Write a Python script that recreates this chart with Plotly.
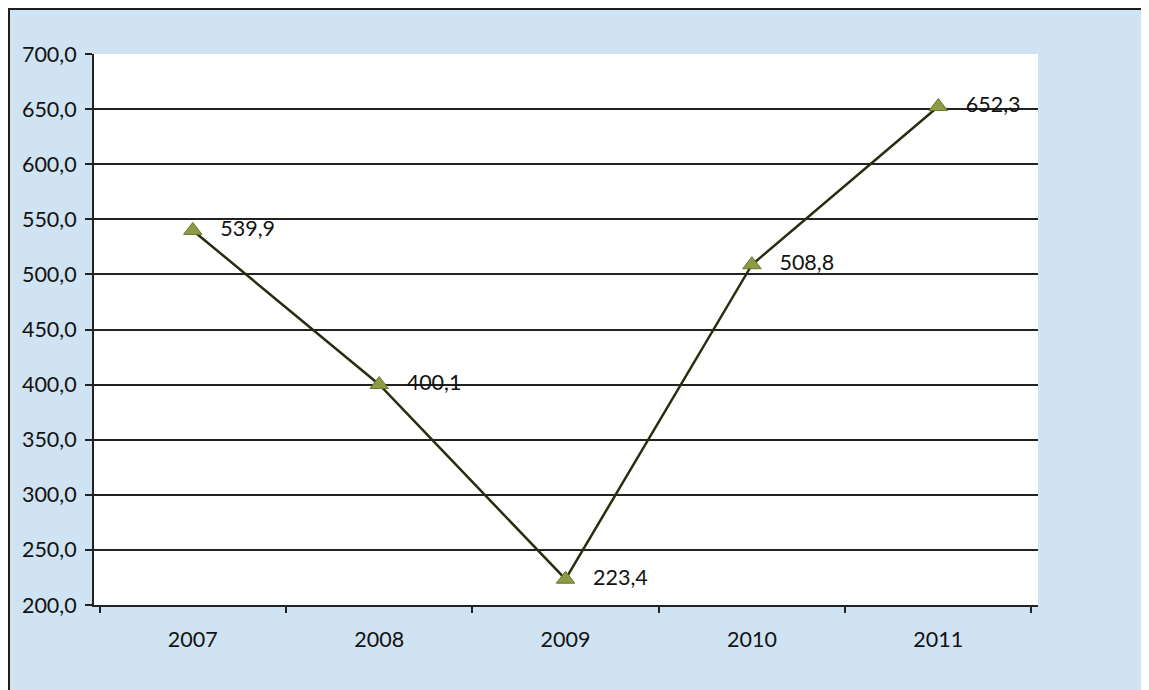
import plotly.graph_objects as go

years = ["2007", "2008", "2009", "2010", "2011"]
values = [539.9, 400.1, 223.4, 508.8, 652.3]
labels = ["539,9", "400,1", "223,4", "508,8", "652,3"]
y_ticks = [200, 250, 300, 350, 400, 450, 500, 550, 600, 650, 700]
y_tick_text = ["200,0", "250,0", "300,0", "350,0", "400,0", "450,0", "500,0", "550,0", "600,0", "650,0", "700,0"]

FONT = "Lato, Open Sans, sans-serif"
FS = 21.5

fig = go.Figure()
fig.add_trace(go.Scatter(
    x=years, y=values, mode="lines+markers+text",
    text=["   " + t for t in labels], textposition="middle right",
    textfont=dict(family=FONT, size=FS, color="#121212"),
    line=dict(color="#2b2b0e", width=2.5),
    marker=dict(symbol="triangle-up", size=16, color="#8e9b43", line=dict(color="#6a7530", width=1)),
    cliponaxis=False, showlegend=False,
))

W, H = 1141, 682
L, T, R, B = 86, 46, 111, 85
pw, ph = W - L - R, H - T - B

fig.update_layout(
    width=W, height=H,
    margin=dict(l=L, r=R, t=T, b=B),
    paper_bgcolor="#d0e3f2", plot_bgcolor="#ffffff",
    font=dict(family=FONT, size=FS, color="#121212"),
    shapes=[dict(type="rect", xref="paper", yref="paper",
                 x0=(1 - L) / pw, x1=(1138 - L) / pw,
                 y0=-0.3, y1=1 + (T - 1) / ph,
                 line=dict(color="#1e1e1e", width=2), fillcolor="rgba(0,0,0,0)", layer="below")],
)
fig.update_xaxes(
    type="category", range=[-0.53, 4.535], tickson="boundaries", ticks="outside", ticklen=6,
    tickcolor="#222", tickwidth=2,
    showline=True, linecolor="#222", linewidth=2, showgrid=False,
    tickfont=dict(family=FONT, size=FS), ticklabelstandoff=14,
)
fig.update_yaxes(
    range=[200, 700], tickvals=y_ticks, ticktext=y_tick_text,
    ticks="outside", ticklen=7, tickcolor="#222", tickwidth=2,
    showline=True, linecolor="#222", linewidth=2,
    showgrid=True, gridcolor="#222", gridwidth=1.6, zeroline=False,
    tickfont=dict(family=FONT, size=FS), ticklabelstandoff=4,
)
fig.write_html("out.html")
